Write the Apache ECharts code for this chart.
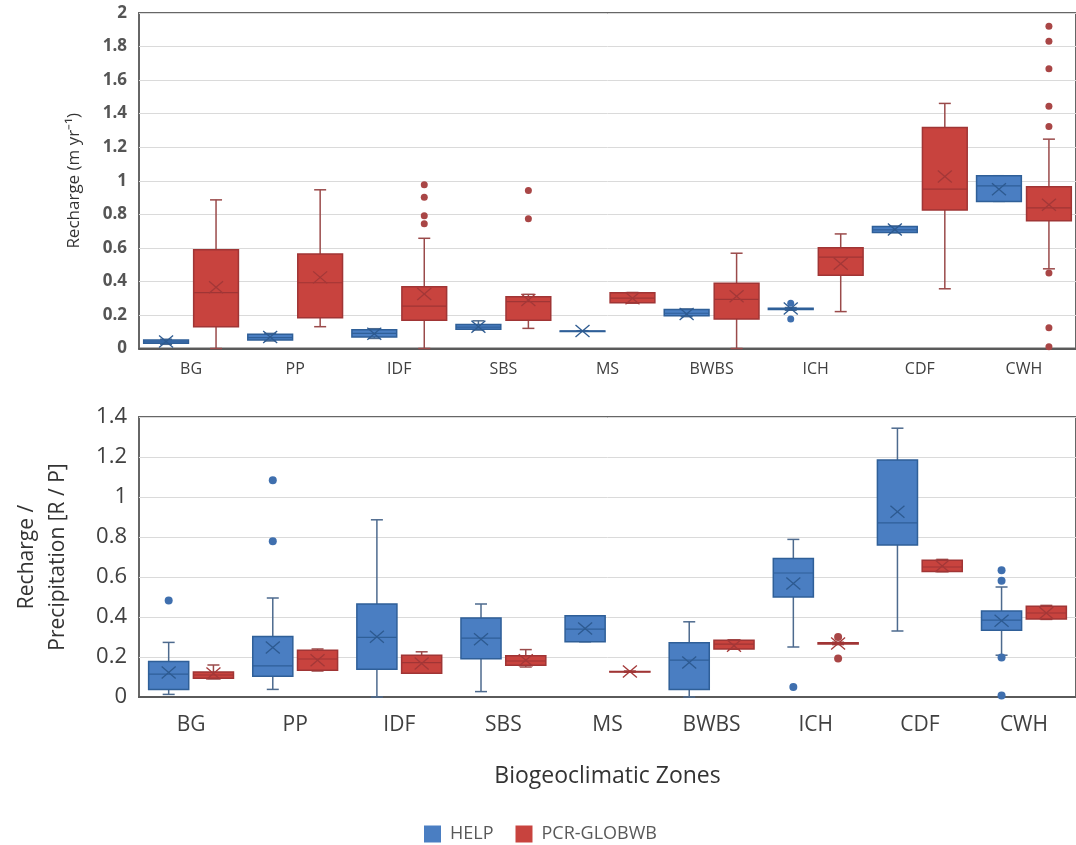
<!DOCTYPE html>
<html><head><meta charset="utf-8">
<script src="https://cdn.jsdelivr.net/npm/echarts@6/dist/echarts.min.js"></script>
<style>html,body{margin:0;padding:0;background:#fff}#c{width:1076px;height:845px}</style>
</head><body><div id="c"></div>
<script>
const categories = ['BG','PP','IDF','SBS','MS','BWBS','ICH','CDF','CWH'];
// each row: [min, q1, median, q3, max, mean]
const rechargeHELP = [
  [0.025,0.032,0.04,0.05,0.055,0.042],
  [0.045,0.05,0.065,0.085,0.09,0.068],
  [0.06,0.068,0.09,0.112,0.118,0.088],
  [0.11,0.115,0.128,0.143,0.165,0.13],
  [0.103,0.104,0.104,0.105,0.106,0.104],
  [0.19,0.195,0.21,0.232,0.236,0.205],
  [0.228,0.233,0.237,0.24,0.244,0.238],
  [0.69,0.692,0.707,0.727,0.73,0.71],
  [0.877,0.877,0.97,1.03,1.03,0.95]
];
const rechargePCR = [
  [0,0.13,0.333,0.588,0.886,0.365],
  [0.13,0.183,0.392,0.564,0.946,0.424],
  [0,0.169,0.253,0.368,0.657,0.325],
  [0.12,0.169,0.279,0.309,0.323,0.289],
  [0.27,0.272,0.3,0.332,0.334,0.3],
  [0,0.176,0.293,0.389,0.568,0.311],
  [0.22,0.436,0.545,0.6,0.683,0.505],
  [0.356,0.826,0.95,1.317,1.461,1.026],
  [0.475,0.762,0.838,0.964,1.248,0.857]
];
// [categoryIndex, value]
const rechargeHELPOutliers = [[6,0.27],[6,0.176]];
const rechargePCROutliers = [
  [2,0.976],[2,0.902],[2,0.791],[2,0.743],
  [3,0.942],[3,0.773],
  [8,1.921],[8,1.832],[8,1.667],[8,1.444],[8,1.323],[8,0.45],[8,0.123],[8,0.01]
];
const ratioHELP = [
  [0.013,0.037,0.114,0.177,0.273,0.122],
  [0.038,0.104,0.156,0.303,0.495,0.247],
  [0,0.139,0.298,0.465,0.886,0.301],
  [0.027,0.191,0.294,0.395,0.465,0.289],
  [0.276,0.276,0.339,0.406,0.406,0.343],
  [0,0.037,0.184,0.271,0.376,0.172],
  [0.25,0.5,0.62,0.693,0.788,0.568],
  [0.33,0.76,0.871,1.185,1.344,0.926],
  [0.209,0.334,0.384,0.43,0.55,0.381]
];
const ratioPCR = [
  [0.09,0.094,0.11,0.125,0.16,0.118],
  [0.13,0.134,0.19,0.234,0.24,0.184],
  [0.119,0.119,0.172,0.209,0.226,0.167],
  [0.15,0.159,0.18,0.206,0.237,0.184],
  [0.124,0.126,0.127,0.128,0.13,0.127],
  [0.239,0.24,0.264,0.284,0.286,0.256],
  [0.262,0.265,0.268,0.271,0.274,0.268],
  [0.626,0.628,0.65,0.684,0.688,0.655],
  [0.388,0.39,0.42,0.454,0.458,0.42]
];
const ratioHELPOutliers = [[0,0.482],[1,1.084],[1,0.779],[6,0.05],[8,0.634],[8,0.581],[8,0.197],[8,0.008]];
const ratioPCROutliers = [[6,0.30],[6,0.192]];
const topTicks = {min:0, max:2, interval:0.2};
const bottomTicks = {min:0, max:1.4, interval:0.2};

const FONT = 'Open Sans';
const BLUE = {fill:'#4a7ec2', edge:'#2f5f98', whisker:'#4d6a8e', mean:'#2d5a90', dot:'#3f6fae'};
const RED = {fill:'#c8433e', edge:'#a03535', whisker:'#9a4a4a', mean:'#a33838', dot:'#a94646'};

function boxData(rows){ return rows.map((r,i)=>[i].concat(r)); }

function boxSeries(name, rows, gi, side, wFrac, offFrac, c){
  return {
    type:'custom', name, xAxisIndex:gi, yAxisIndex:gi,
    itemStyle:{color:c.fill},
    encode:{x:0, y:[1,2,3,4,5,6]},
    data: boxData(rows),
    renderItem:(params, api)=>{
      const i = api.value(0);
      const band = api.size([1,0])[0];
      const cx = api.coord([i,0])[0] + side*offFrac*band;
      const w = wFrac*band;
      const y = k => api.coord([i, api.value(k)])[1];
      const yMin=y(1), yQ1=y(2), yMed=y(3), yQ3=y(4), yMax=y(5), yMean=y(6);
      const cap = 6;
      const ws = {stroke:c.whisker, lineWidth:1.5};
      const mx = 7, my = 6;
      return {type:'group', children:[
        {type:'line', shape:{x1:cx,y1:yQ3,x2:cx,y2:yMax}, style:ws},
        {type:'line', shape:{x1:cx,y1:yQ1,x2:cx,y2:yMin}, style:ws},
        {type:'line', shape:{x1:cx-cap,y1:yMax,x2:cx+cap,y2:yMax}, style:ws},
        {type:'line', shape:{x1:cx-cap,y1:yMin,x2:cx+cap,y2:yMin}, style:ws},
        {type:'rect', shape:{x:cx-w/2,y:yQ3,width:w,height:Math.max(yQ1-yQ3,0.5)}, style:{fill:c.fill, stroke:c.edge, lineWidth:1.5}},
        {type:'line', shape:{x1:cx-w/2,y1:yMed,x2:cx+w/2,y2:yMed}, style:{stroke:c.edge, lineWidth:1.2}},
        {type:'line', shape:{x1:cx-mx,y1:yMean-my,x2:cx+mx,y2:yMean+my}, style:{stroke:c.mean, lineWidth:1.3}},
        {type:'line', shape:{x1:cx-mx,y1:yMean+my,x2:cx+mx,y2:yMean-my}, style:{stroke:c.mean, lineWidth:1.3}}
      ]};
    }
  };
}
function outlierSeries(name, pts, gi, side, offFrac, c, r){
  return {
    type:'custom', name, xAxisIndex:gi, yAxisIndex:gi,
    itemStyle:{color:c.fill},
    encode:{x:0, y:1},
    data: pts,
    renderItem:(params, api)=>{
      const band = api.size([1,0])[0];
      const p = api.coord([api.value(0), api.value(1)]);
      return {type:'circle', shape:{cx:p[0]+side*offFrac*band, cy:p[1], r:r}, style:{fill:c.dot}};
    }
  };
}

const GL = 139, GW = 937;
function xAxis(gi, fs, margin, extra){
  return Object.assign({
    type:'category', gridIndex:gi, data:categories, boundaryGap:true,
    axisTick:{show:false},
    axisLine:{show:true, lineStyle:{color:'#5a5a5a', width:2}},
    axisLabel:{fontSize:fs, color:'#404040', margin:margin, fontFamily:FONT},
    splitLine:{show:false}
  }, extra||{});
}
function yAxis(gi, ticks, fs, bold, extra){
  return Object.assign({
    type:'value', gridIndex:gi, min:ticks.min, max:ticks.max, interval:ticks.interval,
    axisLine:{show:false}, axisTick:{show:false},
    axisLabel:{fontSize:fs, color:bold?'#555':'#404040', fontWeight:bold?'bold':'normal', margin:12, fontFamily:FONT},
    splitLine:{show:true, lineStyle:{color:'#dadada', width:1}}
  }, extra||{});
}

const chart = echarts.init(document.getElementById('c'), null, {renderer:'canvas'});
chart.setOption({
  animation:false,
  backgroundColor:'#fff',
  grid:[
    {left:GL, top:13, width:GW, height:335.5, show:true, borderColor:'#666', borderWidth:2},
    {left:GL, top:417, width:GW, height:280, show:true, borderColor:'#666', borderWidth:2}
  ],
  xAxis:[
    xAxis(0, 16, 13),
    xAxis(1, 21, 18, {name:'Biogeoclimatic Zones', nameLocation:'middle', nameGap:68,
      nameTextStyle:{fontSize:23, color:'#333', fontFamily:FONT}})
  ],
  yAxis:[
    yAxis(0, topTicks, 17, true, {name:'Recharge (m yr\u207B\u00B9)', nameLocation:'middle', nameRotate:90, nameGap:56,
      nameTextStyle:{fontSize:17, color:'#333', fontFamily:FONT}}),
    yAxis(1, bottomTicks, 22, false, {name:'Recharge /\nPrecipitation [R / P]', nameLocation:'middle', nameRotate:90, nameGap:65,
      nameTextStyle:{fontSize:21, lineHeight:31, color:'#333', fontFamily:FONT}})
  ],
  legend:{
    left:419, top:820, itemWidth:17, itemHeight:17, itemGap:22,
    textStyle:{fontSize:18, color:'#595959', fontFamily:FONT, padding:[0,0,0,4]},
    data:[{name:'HELP', icon:'rect'}, {name:'PCR-GLOBWB', icon:'rect'}]
  },
  series:[
    boxSeries('HELP', rechargeHELP, 0, -1, 0.43, 0.24, BLUE),
    boxSeries('PCR-GLOBWB', rechargePCR, 0, 1, 0.43, 0.24, RED),
    outlierSeries('HELP', rechargeHELPOutliers, 0, -1, 0.24, BLUE, 3.5),
    outlierSeries('PCR-GLOBWB', rechargePCROutliers, 0, 1, 0.24, RED, 3.5),
    boxSeries('HELP', ratioHELP, 1, -1, 0.385, 0.215, BLUE),
    boxSeries('PCR-GLOBWB', ratioPCR, 1, 1, 0.385, 0.215, RED),
    outlierSeries('HELP', ratioHELPOutliers, 1, -1, 0.215, BLUE, 4),
    outlierSeries('PCR-GLOBWB', ratioPCROutliers, 1, 1, 0.215, RED, 4)
  ]
});
</script></body></html>
